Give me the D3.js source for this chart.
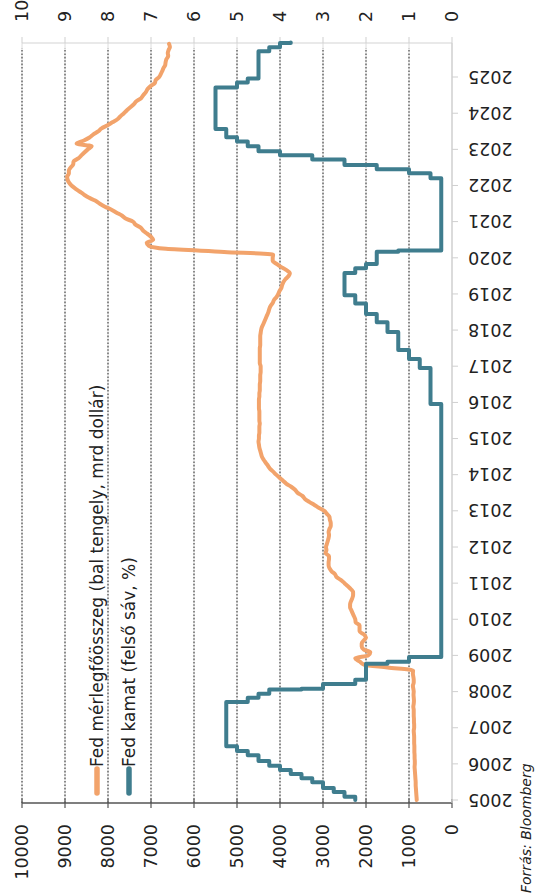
<!DOCTYPE html>
<html>
<head>
<meta charset="utf-8">
<script src="https://cdn.jsdelivr.net/npm/d3@7/dist/d3.min.js"></script>
<style>
  html, body { margin: 0; padding: 0; background: #fff; }
  svg { display: block; }
  text { font-family: "DejaVu Sans", sans-serif; fill: #222; }
</style>
</head>
<body>
<svg id="chart" width="535" height="895"></svg>
<script>
// ---------- DATA ----------
const yearLabels = [2005,2006,2007,2008,2009,2010,2011,2012,2013,2014,2015,2016,2017,2018,2019,2020,2021,2022,2023,2024,2025];
const leftTicks = [0,1000,2000,3000,4000,5000,6000,7000,8000,9000,10000];
const rightTicks = [0,1,2,3,4,5,6,7,8,9,10];
const seriesNames = ["Fed mérlegfőösszeg (bal tengely, mrd dollár)", "Fed kamat (felső sáv, %)"];
const sourceText = "Forrás: Bloomberg";

// Fed balance sheet, monthly from Jan 2005 (bn USD)
const balanceSheet = [
  820, 825, 830, 835, 840, 845, 845, 850, 855, 860, 865, 870,
  865, 865, 870, 870, 875, 875, 875, 880, 880, 880, 885, 890,
  880, 880, 885, 885, 890, 890, 890, 900, 890, 885, 890, 895,
  890, 900, 910, 890, 890, 900, 910, 905, 1500, 2050, 2150, 2250,
  1950, 1900, 2050, 2100, 2100, 2050, 2000, 2050, 2150, 2150, 2150, 2240,
  2250, 2280, 2310, 2340, 2370, 2370, 2350, 2320, 2300, 2300, 2350, 2420,
  2500, 2580, 2680, 2720, 2800, 2850, 2870, 2870, 2860, 2860, 2940, 2920,
  2930, 2910, 2890, 2870, 2860, 2870, 2850, 2820, 2820, 2840, 2850, 2910,
  2970, 3100, 3200, 3320, 3420, 3480, 3590, 3650, 3740, 3850, 3930, 4010,
  4090, 4160, 4230, 4280, 4330, 4380, 4420, 4440, 4460, 4480, 4490, 4500,
  4490, 4490, 4480, 4480, 4480, 4470, 4480, 4480, 4480, 4480, 4490, 4490,
  4490, 4490, 4480, 4480, 4470, 4470, 4470, 4460, 4460, 4460, 4450, 4450,
  4450, 4470, 4470, 4470, 4470, 4470, 4470, 4460, 4460, 4460, 4460, 4450,
  4440, 4420, 4390, 4360, 4330, 4300, 4270, 4250, 4220, 4170, 4140, 4080,
  4040, 4010, 3970, 3950, 3920, 3870, 3800, 3770, 3860, 3980, 4080, 4170,
  4170, 4160, 5300, 6650, 7050, 7100, 6950, 7000, 7090, 7180, 7240, 7360,
  7420, 7590, 7670, 7800, 7920, 8070, 8190, 8300, 8450, 8560, 8660, 8760,
  8850, 8910, 8940, 8950, 8910, 8910, 8870, 8810, 8800, 8690, 8620, 8550,
  8470, 8380, 8730, 8560, 8430, 8340, 8230, 8150, 8010, 7900, 7780, 7710,
  7630, 7560, 7480, 7400, 7340, 7230, 7180, 7120, 7080, 7010, 6910, 6890,
  6810, 6770, 6740, 6710, 6670, 6660, 6640, 6600, 6610, 6590, 6560, 6580
];

// Fed funds target, upper bound: change dates and levels (%)
const rateDates = [
  "2005-01-01","2005-02-02","2005-03-22","2005-05-03","2005-06-30","2005-08-09","2005-09-20","2005-11-01","2005-12-13",
  "2006-01-31","2006-03-28","2006-05-10","2006-06-29",
  "2007-09-18","2007-10-31","2007-12-11",
  "2008-01-22","2008-01-30","2008-03-18","2008-04-30","2008-10-08","2008-10-29","2008-12-16",
  "2015-12-16","2016-12-14","2017-03-15","2017-06-14","2017-12-13",
  "2018-03-21","2018-06-13","2018-09-26","2018-12-19",
  "2019-07-31","2019-09-18","2019-10-30",
  "2020-03-03","2020-03-15",
  "2022-03-16","2022-05-04","2022-06-15","2022-07-27","2022-09-21","2022-11-02","2022-12-14",
  "2023-02-01","2023-03-22","2023-05-03","2023-07-26",
  "2024-09-18","2024-11-07","2024-12-18",
  "2025-09-17","2025-10-29","2025-12-10","2025-12-15"
];
const rateValues = [
  2.25,2.5,2.75,3.0,3.25,3.5,3.75,4.0,4.25,
  4.5,4.75,5.0,5.25,
  4.75,4.5,4.25,
  3.5,3.0,2.25,2.0,1.5,1.0,0.25,
  0.5,0.75,1.0,1.25,1.5,
  1.75,2.0,2.25,2.5,
  2.25,2.0,1.75,
  1.25,0.25,
  0.5,1.0,1.75,2.5,3.25,4.0,4.5,
  4.75,5.0,5.25,5.5,
  5.0,4.75,4.5,
  4.25,4.0,3.75,3.75
];

// ---------- CHART (drawn in landscape, then rotated) ----------
const W = 895, H = 535;
const COLORS = { balance: "#F2A36B", rate: "#3F7D8E" };

const svg = d3.select("#chart");
const g = svg.append("g").attr("transform", `translate(0,${W}) rotate(-90)`);

const plot = { left: 92, right: 852, top: 22, bottom: 452 };

const x = d3.scaleTime()
  .domain([new Date(2005, 0, 1), new Date(2025, 0, 1)])
  .range([95, 818]);
const yL = d3.scaleLinear().domain([0, 10000]).range([plot.bottom, plot.top]);
const yR = d3.scaleLinear().domain([0, 10]).range([plot.bottom, plot.top]);

// gridlines: light solid + dark dotted
g.append("g").selectAll("line").data(leftTicks).join("line")
  .attr("x1", plot.left).attr("x2", plot.right)
  .attr("y1", d => yL(d)).attr("y2", d => yL(d))
  .attr("stroke", "#dcdcdc").attr("stroke-width", 1);
g.append("g").selectAll("line").data(leftTicks.filter(d => d > 0)).join("line")
  .attr("x1", plot.left).attr("x2", plot.right - 5)
  .attr("y1", d => yL(d)).attr("y2", d => yL(d))
  .attr("stroke", "#3a3a3a").attr("stroke-width", 1.1)
  .attr("stroke-dasharray", "1.6,1.8");

// right border / right axis (light)
g.append("line").attr("x1", plot.right).attr("x2", plot.right)
  .attr("y1", plot.top).attr("y2", plot.bottom)
  .attr("stroke", "#d4d4d4").attr("stroke-width", 1.2);
g.append("g").selectAll("line").data(rightTicks).join("line")
  .attr("x1", plot.right).attr("x2", plot.right + 6)
  .attr("y1", d => yR(d)).attr("y2", d => yR(d))
  .attr("stroke", "#cfcfcf");

// left axis (dark)
g.append("line").attr("x1", plot.left).attr("x2", plot.left)
  .attr("y1", plot.top).attr("y2", plot.bottom)
  .attr("stroke", "#555").attr("stroke-width", 1.4);
g.append("g").selectAll("line").data(leftTicks).join("line")
  .attr("x1", plot.left - 5).attr("x2", plot.left + 4)
  .attr("y1", d => yL(d)).attr("y2", d => yL(d))
  .attr("stroke", "#555").attr("stroke-width", 1.2);

// bottom (time) axis
g.append("line").attr("x1", plot.left).attr("x2", plot.right)
  .attr("y1", plot.bottom).attr("y2", plot.bottom)
  .attr("stroke", "#cfcfcf").attr("stroke-width", 1.2);
const yearDates = yearLabels.map(yv => new Date(yv, 0, 1));
g.append("g").selectAll("line").data(yearDates).join("line")
  .attr("x1", d => x(d)).attr("x2", d => x(d))
  .attr("y1", plot.bottom).attr("y2", plot.bottom + 6)
  .attr("stroke", "#cfcfcf");

// axis labels
g.append("g").selectAll("text").data(leftTicks).join("text")
  .attr("x", 71).attr("y", d => yL(d)).attr("dy", "0.36em")
  .attr("text-anchor", "end").attr("font-size", 17.5)
  .text(d => d);
g.append("g").selectAll("text").data(rightTicks).join("text")
  .attr("x", 873).attr("y", d => yR(d)).attr("dy", "0.36em")
  .attr("text-anchor", "start").attr("font-size", 17.5)
  .text(d => d);
g.append("g").selectAll("text").data(yearDates).join("text")
  .attr("transform", d => `translate(${x(d)},${468}) rotate(-90)`)
  .attr("dy", "0.36em").attr("text-anchor", "end").attr("font-size", 17.5)
  .text((d, i) => yearLabels[i]);

// series
const balData = balanceSheet.map((v, i) => ({ date: new Date(2005, i, 1), v }));
const rateData = rateDates.map((d, i) => ({ date: d3.isoParse(d), v: rateValues[i] }));

g.append("path").datum(balData)
  .attr("fill", "none").attr("stroke", COLORS.balance).attr("stroke-width", 4)
  .attr("stroke-linejoin", "round").attr("stroke-linecap", "round")
  .attr("d", d3.line().x(d => x(d.date)).y(d => yL(d.v)).curve(d3.curveMonotoneX));

g.append("path").datum(rateData)
  .attr("fill", "none").attr("stroke", COLORS.rate).attr("stroke-width", 4)
  .attr("stroke-linejoin", "round").attr("stroke-linecap", "round")
  .attr("d", d3.line().x(d => x(d.date)).y(d => yR(d.v)).curve(d3.curveStepAfter));

// legend
const legend = g.append("g");
const legendRows = [
  { name: seriesNames[0], color: COLORS.balance, cy: 97 },
  { name: seriesNames[1], color: COLORS.rate, cy: 129 }
];
legendRows.forEach(r => {
  legend.append("line").attr("x1", 102).attr("x2", 126)
    .attr("y1", r.cy).attr("y2", r.cy)
    .attr("stroke", r.color).attr("stroke-width", 5.5).attr("stroke-linecap", "round");
  legend.append("text").attr("x", 128).attr("y", r.cy).attr("dy", "0.36em")
    .attr("font-size", 17).text(r.name);
});

// source
g.append("text").attr("x", 2).attr("y", 531)
  .attr("font-size", 14).attr("font-style", "italic").text(sourceText);
</script>
</body>
</html>
